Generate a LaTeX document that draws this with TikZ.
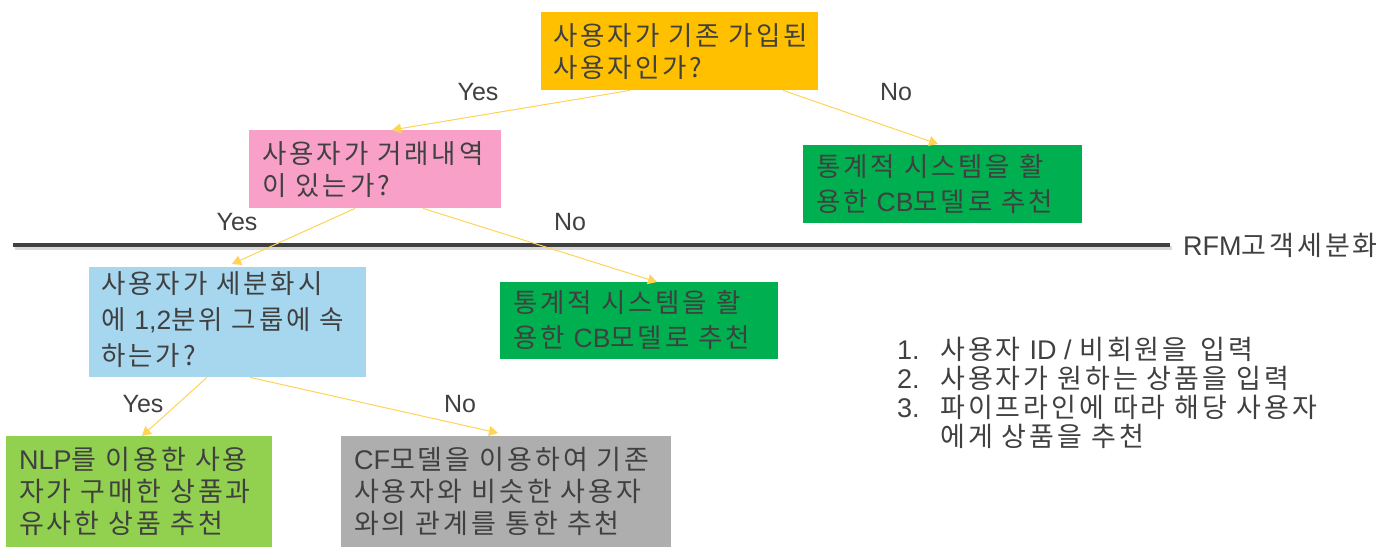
\documentclass[tikz,border=0pt]{standalone}
\usepackage{fontspec}
\setmainfont{Noto Sans CJK KR}[LetterSpace=11]
\newfontfamily\lat{Liberation Sans}
\usetikzlibrary{arrows.meta,calc}
\definecolor{txt}{HTML}{404040}
\definecolor{cOrange}{HTML}{FFC000}
\definecolor{cPink}{HTML}{F8A0C8}
\definecolor{cGreen}{HTML}{00B050}
\definecolor{cBlue}{HTML}{A6D7EF}
\definecolor{cLGreen}{HTML}{92D050}
\definecolor{cGray}{HTML}{AEAEAE}
\definecolor{cArrow}{HTML}{FFD355}
\begin{document}
\begin{tikzpicture}[x=1pt,y=-1pt,
  boxn/.style={anchor=north west, inner sep=0pt, draw=none},
  txtn/.style={anchor=west, inner xsep=0pt, inner ysep=0pt, align=left, text=txt, font=\fontsize{26.5}{32}\selectfont},
  conn/.style={draw=cArrow, line width=1pt, -{Triangle[length=9pt,width=10pt]}},
  lbl/.style={text=txt, inner sep=0pt, font=\fontsize{25}{30}\selectfont\lat}]
\useasboundingbox (0,0) rectangle (1393,554);

% boxes
\node[boxn, fill=cOrange, minimum width=277pt, minimum height=78pt] (q1) at (541,12) {};
\node[txtn] (q1t) at ($(q1.west)+(12,0)$) {사용자가 기존 가입된\\사용자인가?};

\node[boxn, fill=cPink, minimum width=252pt, minimum height=78pt] (q2) at (249,130) {};
\node[txtn] (q2t) at ($(q2.west)+(13,0)$) {사용자가 거래내역\\이 있는가?};

\node[boxn, fill=cGreen, minimum width=279pt, minimum height=78pt] (r1) at (803,145) {};
\node[txtn, font=\fontsize{26.5}{35}\selectfont] (r1t) at ($(r1.west)+(13,0)$) {통계적 시스템을 활\\용한 {\lat CB}모델로 추천};

\node[boxn, fill=cBlue, minimum width=277pt, minimum height=110pt] (q3) at (89,267) {};
\node[txtn, font=\fontsize{26.5}{36}\selectfont] (q3t) at ($(q3.west)+(12,-3)$) {사용자가 세분화시\\에 {\lat 1,2}분위 그룹에 속\\하는가?};

\node[boxn, fill=cGreen, minimum width=278pt, minimum height=77pt] (r2) at (500,282) {};
\node[txtn, font=\fontsize{26.5}{35}\selectfont] (r2t) at ($(r2.west)+(13,-1)$) {통계적 시스템을 활\\용한 {\lat CB}모델로 추천};

\node[boxn, fill=cLGreen, minimum width=266pt, minimum height=111pt] (r3) at (6,436) {};
\node[txtn, font=\fontsize{27}{32}\selectfont] (r3t) at ($(r3.west)+(13,0)$) {{\lat NLP}를 이용한 사용\\자가 구매한 상품과\\유사한 상품 추천};

\node[boxn, fill=cGray, minimum width=330pt, minimum height=111pt] (r4) at (341,436) {};
\node[txtn, font=\fontsize{27}{32}\selectfont] (r4t) at ($(r4.west)+(13,0)$) {{\lat CF}모델을 이용하여 기존\\사용자와 비슷한 사용자\\와의 관계를 통한 추천};

% separator line
\coordinate (la) at (13,245);
\coordinate (lb) at (1170,245);
\draw[line width=4pt, black!25, opacity=0.6] ($(la)+(2,2.5)$) -- ($(lb)+(2,2.5)$);
\draw[line width=4pt, txt] (la) -- (lb);
\node[lbl, anchor=west, font=\fontsize{27}{30}\selectfont] (rfm) at ($(lb)+(13,0)$) {{\lat RFM}고객세분화};

% connectors
\draw[conn] ($(q1.south west)+(89,0)$) -- ($(q2.north west)+(143,0)$);
\draw[conn] ($(q1.south west)+(242,0)$) -- ($(r1.north west)+(135,-1)$);
\draw[conn] ($(q2.south west)+(106,0)$) -- ($(q3.north west)+(143,-3)$);
\draw[conn] ($(q2.south west)+(174,0)$) -- ($(r2.north west)+(157,0)$);
\draw[conn] ($(q3.south west)+(118,0)$) -- ($(r3.north west)+(136,0)$);
\draw[conn] ($(q3.south west)+(161,0)$) -- ($(r4.north west)+(157,-3)$);

% branch labels
\node[lbl] (y1) at (478,92) {Yes};
\node[lbl] (n1) at (896,92) {No};
\node[lbl] (y2) at (237,222) {Yes};
\node[lbl] (n2) at (570,222) {No};
\node[lbl] (y3) at (143,404) {Yes};
\node[lbl] (n3) at (460,404) {No};

% steps list
\node[anchor=north west, inner sep=0pt, align=left, text=txt, font=\fontsize{27}{29}\selectfont] (steps) at (897,337)
{\makebox[43pt][l]{\lat 1.}사용자 {\lat ID / }비회원을 \,입력\\
 \makebox[43pt][l]{\lat 2.}사용자가 원하는 상품을 입력\\
 \makebox[43pt][l]{\lat 3.}파이프라인에 따라 해당 사용자\\
 \hspace*{43pt}에게 상품을 추천};
\end{tikzpicture}
\end{document}
